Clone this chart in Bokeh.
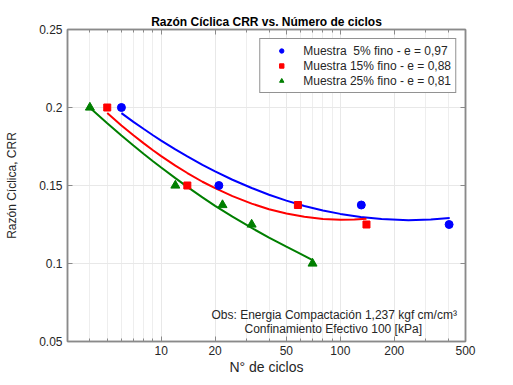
from bokeh.plotting import figure
from bokeh.models import FixedTicker, LinearAxis, LogAxis, Legend, LegendItem, Range1d, Label
from bokeh.embed import file_html
from bokeh.resources import INLINE

# Data
blue_n = [6, 21, 131, 405]
blue_crr = [0.2, 0.15, 0.1375, 0.125]
red_n = [5, 14, 58, 140]
red_crr = [0.2, 0.15, 0.1375, 0.125]
green_n = [4, 12, 22, 32, 70]
green_crr = [0.2, 0.15, 0.1375, 0.125, 0.1]

# Fitted trend curves
blue_fit_n = [6, 7, 8, 9, 10, 12, 14, 17, 20, 25, 32, 40, 50, 63, 80, 100, 130, 170, 240, 320, 408]
blue_fit_crr = [0.1964, 0.1908, 0.1862, 0.1822, 0.1788, 0.1731, 0.1686, 0.1632, 0.1590, 0.1537, 0.1484,
                0.1441, 0.1403, 0.1369, 0.1340, 0.1318, 0.1298, 0.1285, 0.1278, 0.1282, 0.1291]
red_fit_n = [5, 6, 7, 8, 9, 10, 12, 14, 17, 20, 25, 32, 40, 50, 63, 80, 100, 120, 140]
red_fit_crr = [0.1965, 0.1885, 0.1822, 0.1770, 0.1726, 0.1688, 0.1627, 0.1580, 0.1524, 0.1483, 0.1432,
               0.1384, 0.1348, 0.1320, 0.1299, 0.1285, 0.1280, 0.1282, 0.1287]
green_fit_n = [4, 5, 6, 7, 8, 9, 10, 12, 14, 17, 20, 25, 32, 40, 50, 60, 70]
green_fit_crr = [0.1998, 0.1899, 0.1820, 0.1756, 0.1702, 0.1656, 0.1615, 0.1547, 0.1491, 0.1424, 0.1369,
                 0.1300, 0.1228, 0.1166, 0.1108, 0.1062, 0.1021]

x_ticks = [10, 20, 50, 100, 200, 500]
x_minor = [3, 4, 5, 6, 7, 8, 9, 10, 20, 30, 40, 50, 60, 70, 80, 90, 100, 200, 300, 400, 500]
y_ticks = [0.05, 0.1, 0.15, 0.2, 0.25]
y_labels = ["0.05", "0.1", "0.15", "0.2", "0.25"]

FONT = "Liberation Sans"
TXT = "#262626"
AX = "#8a8a8a"
BLUE = "#0000ff"
RED = "#ff0000"
GREEN = "#007f00"

p = figure(width=505, height=377, x_axis_type="log", output_backend="svg",
           toolbar_location=None, x_range=Range1d(3, 500), y_range=Range1d(0.05, 0.25),
           min_border_left=67, min_border_right=40, min_border_top=29, min_border_bottom=34)

p.title.text = "Razón Cíclica CRR vs. Número de ciclos"
p.title.align = "center"
p.title.text_font = FONT
p.title.text_font_size = "12px"
p.title.text_font_style = "bold"
p.title.text_color = "#000000"
p.title.standoff = 2

p.outline_line_color = AX
p.outline_line_width = 1.5

xt = FixedTicker(ticks=x_ticks, minor_ticks=x_minor)
yt = FixedTicker(ticks=y_ticks, minor_ticks=[])

xa = p.xaxis[0]
xa.ticker = xt
xa.major_label_overrides = {t: str(t) for t in x_ticks}
xa.axis_label = "N° de ciclos"
ya = p.yaxis[0]
ya.ticker = yt
ya.major_label_overrides = {t: l for t, l in zip(y_ticks, y_labels)}
ya.axis_label = "Razón Cíclica, CRR"

for ax in (xa, ya):
    ax.axis_line_color = AX
    ax.axis_line_width = 1.5
    ax.major_tick_in = 5
    ax.major_tick_out = 0
    ax.minor_tick_in = 3
    ax.minor_tick_out = 0
    ax.major_tick_line_color = AX
    ax.minor_tick_line_color = AX
    ax.major_label_text_font = FONT
    ax.major_label_text_font_size = "12px"
    ax.major_label_text_color = TXT
    ax.axis_label_text_font = FONT
    ax.axis_label_text_font_style = "normal"
    ax.axis_label_text_color = TXT

xa.major_label_standoff = 4
xa.axis_label_text_font_size = "14px"
xa.axis_label_standoff = 1
ya.major_label_standoff = 5
ya.axis_label_text_font_size = "12px"
ya.axis_label_standoff = 17

top = LogAxis(ticker=xt, major_label_text_font_size="0px", major_label_text_color=None,
              axis_line_color=AX, axis_line_width=1.5, major_tick_in=5, major_tick_out=0,
              minor_tick_in=3, minor_tick_out=0, major_tick_line_color=AX, minor_tick_line_color=AX)
right = LinearAxis(ticker=yt, major_label_text_font_size="0px", major_label_text_color=None,
                   axis_line_color=AX, axis_line_width=1.5, major_tick_in=5, major_tick_out=0,
                   minor_tick_out=0, major_tick_line_color=AX)
p.add_layout(top, "above")
p.add_layout(right, "right")

p.xgrid.ticker = xt
p.xgrid.grid_line_color = "#e8e8e8"
p.xgrid.minor_grid_line_color = "#eeeeee"
p.ygrid.ticker = yt
p.ygrid.grid_line_color = "#e8e8e8"

p.line(blue_fit_n, blue_fit_crr, line_color=BLUE, line_width=2)
p.line(red_fit_n, red_fit_crr, line_color=RED, line_width=2)
p.line(green_fit_n, green_fit_crr, line_color=GREEN, line_width=2)

p.scatter(blue_n, blue_crr, marker="circle", size=8, fill_color=BLUE, line_color=BLUE)
p.scatter(red_n, red_crr, marker="square", size=7, fill_color=RED, line_color=RED)
p.scatter(green_n, green_crr, marker="triangle", size=9, fill_color=GREEN, line_color=GREEN)

# smaller legend symbols (legend-only renderers, one non-drawn point)
nan = float("nan")
lb = p.scatter([nan], [nan], marker="circle", size=6, fill_color=BLUE, line_color=BLUE)
lr = p.scatter([nan], [nan], marker="square", size=5, fill_color=RED, line_color=RED)
lg = p.scatter([nan], [nan], marker="triangle", size=7, fill_color=GREEN, line_color=GREEN)

legend = Legend(items=[
    LegendItem(label="Muestra  5% fino - e = 0,97", renderers=[lb]),
    LegendItem(label="Muestra 15% fino - e = 0,88", renderers=[lr]),
    LegendItem(label="Muestra 25% fino - e = 0,81", renderers=[lg]),
], location="top_right")
legend.margin = 9
legend.padding = 4
legend.spacing = 0
legend.glyph_width = 34
legend.glyph_height = 11
legend.label_height = 15
legend.label_standoff = 5
legend.label_text_font = FONT
legend.label_text_font_size = "12px"
legend.label_text_color = TXT
legend.border_line_color = "#262626"
legend.border_line_width = 1
legend.background_fill_alpha = 1
p.add_layout(legend)

p.add_layout(Label(x=19.1, y=0.0671, text="Obs: Energia Compactación 1,237 kgf cm/cm³",
                   text_align="left", text_baseline="middle", text_font=FONT,
                   text_font_size="12px", text_color=TXT))
p.add_layout(Label(x=29.2, y=0.0582, text="Confinamiento Efectivo 100 [kPa]",
                   text_align="left", text_baseline="middle", text_font=FONT,
                   text_font_size="12px", text_color=TXT))

open("out.html", "w").write(file_html(p, INLINE))
